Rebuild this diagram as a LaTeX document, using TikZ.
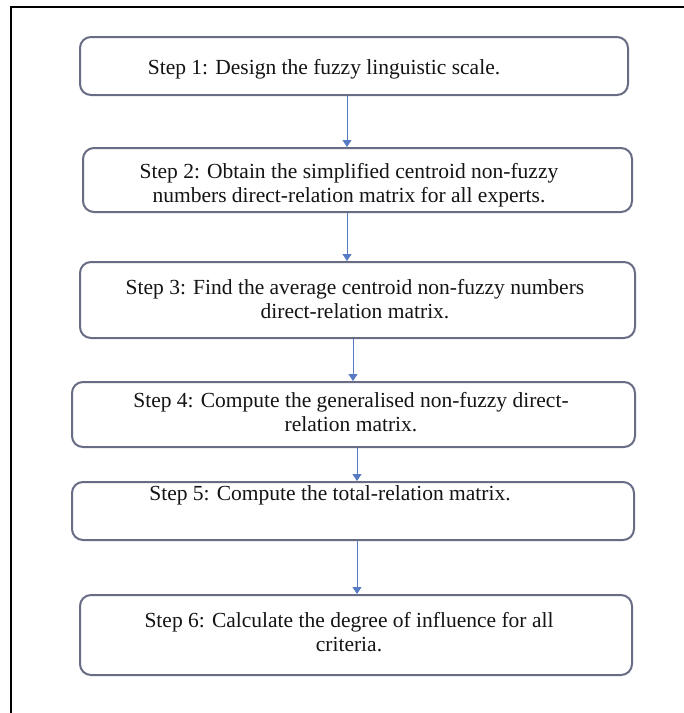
\documentclass[tikz,border=0pt]{standalone}
\usepackage{fontspec}
\setmainfont{Liberation Serif}
\usetikzlibrary{arrows.meta}

\definecolor{boxline}{RGB}{104,108,132}
\definecolor{flowline}{RGB}{86,122,196}
\definecolor{textgray}{RGB}{20,20,20}

\begin{document}
\begin{tikzpicture}[x=1pt,y=-1pt,
    box/.style={draw=boxline, line width=2pt, rounded corners=11pt, fill=white, inner sep=0pt},
    label text/.style={text=textgray, align=center, font=\fontsize{21.5}{24}\selectfont},
    flow/.style={draw=flowline, line width=0.8pt, -{Triangle[length=7pt,width=9pt]}}]
  \useasboundingbox (0,0) rectangle (684,713);

  % frame
  \draw[line width=1.6pt] (11,713) -- (11,7) -- (684,7);

  \newcommand{\stepbox}[5]{
    \node[box, minimum width=#4, minimum height=#5] (#1) at (#2,#3) {};
  }

  \stepbox{s1}{354}{66}{548}{58}
  \stepbox{s2}{357.5}{180}{549}{64}
  \stepbox{s3}{357.5}{300}{555}{76}
  \stepbox{s4}{353.5}{414.5}{563}{65}
  \stepbox{s5}{353}{511}{562}{58}
  \stepbox{s6}{356}{635}{552}{80}

  \node[label text] (t1) at (324,69) {Step 1: Design the fuzzy linguistic scale.};
  \node[label text] (t2) at (349,185) {Step 2: Obtain the simplified centroid non-fuzzy\\numbers direct-relation matrix for all experts.};
  \node[label text] (t3) at (355,299) {Step 3: Find the average centroid non-fuzzy numbers\\direct-relation matrix.};
  \node[label text] (t4) at (351,412) {Step 4: Compute the generalised non-fuzzy direct-\\relation matrix.};
  \node[label text] (t5) at (330,495) {Step 5: Compute the total-relation matrix.};
  \node[label text] (t6) at (349,632) {Step 6: Calculate the degree of influence for all\\criteria.};

  % arrows
  \draw[flow] (s1.south -| 347,0) -- (s2.north -| 347,0);
  \draw[flow] (s2.south -| 347,0) -- (s3.north -| 347,0);
  \draw[flow] (s3.south -| 353,0) -- (s4.north -| 353,0);
  \draw[flow] (s4.south -| 357,0) -- (s5.north -| 357,0);
  \draw[flow] (s5.south -| 357,0) -- (s6.north -| 357,0);

\end{tikzpicture}
\end{document}
